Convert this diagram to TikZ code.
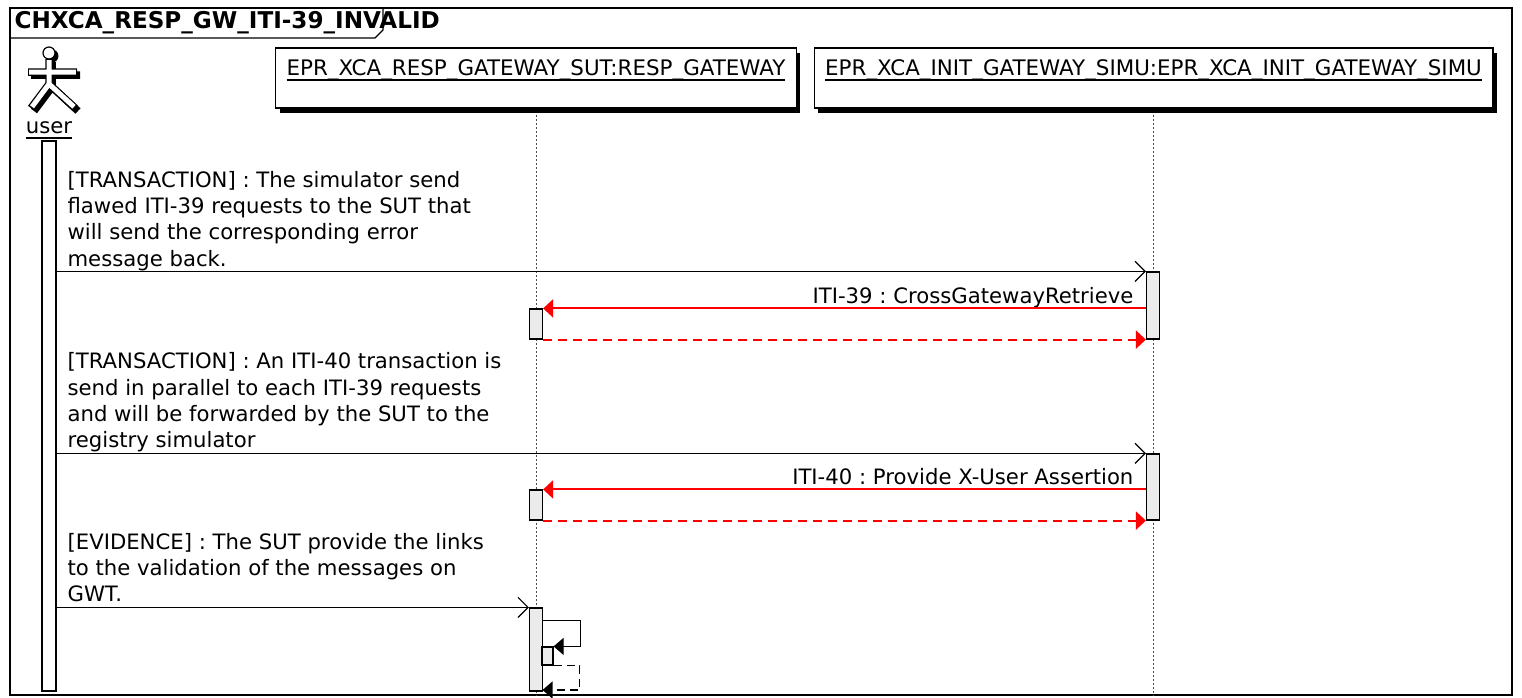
\documentclass[tikz,border=0pt]{standalone}
\usepackage{fontspec}
\setmainfont{DejaVu Sans}
\usetikzlibrary{arrows.meta}
\usetikzlibrary{calc}
\usetikzlibrary{shadows}
\frenchspacing

\newcommand{\ulname}[1]{\setbox0\hbox{#1}\rlap{\rule[-5pt]{\wd0}{1.2pt}}\box0}

\begin{document}
\begin{tikzpicture}[x=1pt, y=-1pt, line width=1.2pt,
    every node/.style={font=\fontsize{21.2}{26.3}\selectfont, inner sep=0pt},
    part/.style={draw, fill=white, line width=1.4pt, inner xsep=11pt,
      font=\fontsize{21.4}{26.3}\selectfont,
      text height=27.6pt, text depth=32.4pt,
      drop shadow={shadow xshift=4pt, shadow yshift=-5pt, fill=black, opacity=1}},
    bar/.style={draw, fill=black!8, minimum width=13pt},
    life/.style={line width=0.9pt, black!70, dash pattern=on 2pt off 2pt},
    msg/.style={-{Straight Barb[length=10pt,width=20pt]}},
    call/.style={draw=red, line width=2pt, -{Triangle[length=10pt,width=18pt,fill=red]}},
    back/.style={call, dash pattern=on 9pt off 6pt},
    selfcall/.style={-{Triangle[length=10pt,width=17pt]}},
    selfback/.style={selfcall, dash pattern=on 8pt off 5pt},
    note/.style={anchor=north west, align=left},
    lbl/.style={anchor=base east}]
    \useasboundingbox (0,0) rectangle (1522,697);

    % frame
    \draw[line width=2pt] (10,8) rectangle (1512,695);
    \draw (10,8) -- (383,8) -- (383,30) -- (375,38) -- (10,38);
    \node[anchor=west, font=\fontsize{23.1}{26}\selectfont\bfseries] (title) at (14,23) {CHXCA\_RESP\_GW\_ITI-39\_INVALID};

    % actor
    \fill[black] (52,56) circle (6.5);
    \draw[line width=7.5pt, black, shift={(3,3)}] (49,59) -- (49,84) (28,72) -- (77,72) (31,108) -- (49,84) -- (75,108);
    \draw[line width=7.5pt, black] (49,59) -- (49,84) (28,72) -- (77,72) (31,108) -- (49,84) -- (75,108);
    \draw[line width=5pt, white] (49,60) -- (49,84) (29.2,72) -- (75.8,72) (32,106.8) -- (49,84) -- (74,106.8);
    \draw[fill=white] (49,53) circle (6);
    \node[anchor=base] (user) at (49,133.5) {\ulname{user}};
    \node[draw, fill=white, minimum width=14pt, minimum height=550pt] (userbar) at (49,416) {};

    % participants
    \node[part] (sut) at (536,78) {\ulname{EPR\_XCA\_RESP\_GATEWAY\_SUT:RESP\_GATEWAY}};
    \node[part] (simu) at (1153.5,78) {\ulname{EPR\_XCA\_INIT\_GATEWAY\_SIMU:EPR\_XCA\_INIT\_GATEWAY\_SIMU}};
    \coordinate (sutEnd) at (536,695);
    \coordinate (simuEnd) at (1153,695);
    \draw[life] ([yshift=-6pt]sut.south) -- (sutEnd);
    \draw[life] ([yshift=-6pt]simu.south -| simuEnd) -- (simuEnd);

    % activations
    \node[bar, minimum height=67pt] (simuA1) at (1153,305.5) {};
    \node[bar, minimum height=30pt] (sutA1) at (536,324) {};
    \node[bar, minimum height=66pt] (simuA2) at (1153,487) {};
    \node[bar, minimum height=30pt] (sutA2) at (536,505) {};
    \node[bar, minimum height=83pt] (sutA3) at (536,649.5) {};
    \node[bar, minimum width=11pt, minimum height=18pt] (sutA4) at (547.5,656) {};

    % first transaction
    \node[note] (note1) at (67,170.6) {[TRANSACTION] : The simulator send\\flawed ITI-39 requests to the SUT that\\will send the corresponding error\\message back.};
    \draw[msg] (userbar.east |- simuA1.north) -- (simuA1.north west);
    \node[lbl] (iti39) at (1134,303.5) {ITI-39 : CrossGatewayRetrieve};
    \draw[call] (simuA1.west |- sutA1.north) -- (sutA1.north east);
    \draw[back] (sutA1.south east) -- (simuA1.south west);

    % second transaction
    \node[note] (note2) at (67,352.2) {[TRANSACTION] : An ITI-40 transaction is\\send in parallel to each ITI-39 requests\\and will be forwarded by the SUT to the\\registry simulator};
    \draw[msg] (userbar.east |- simuA2.north) -- (simuA2.north west);
    \node[lbl] (iti40) at (1134,484.5) {ITI-40 : Provide X-User Assertion};
    \draw[call] (simuA2.west |- sutA2.north) -- (sutA2.north east);
    \draw[back] (sutA2.south east) -- (simuA2.south west);

    % evidence
    \node[note] (note3) at (67,532.6) {[EVIDENCE] : The SUT provide the links\\to the validation of the messages on\\GWT.};
    \draw[msg] (userbar.east |- sutA3.north) -- (sutA3.north west);
    \coordinate (selfEnd) at (542.5,690);
    \draw[selfcall] ([yshift=-13pt]sutA3.north east) -- ++(37,0) |- (sutA4.north east);
    \draw[selfback] (sutA4.south east) -- ++(26,0) |- (selfEnd);
  \end{tikzpicture}
\end{document}
